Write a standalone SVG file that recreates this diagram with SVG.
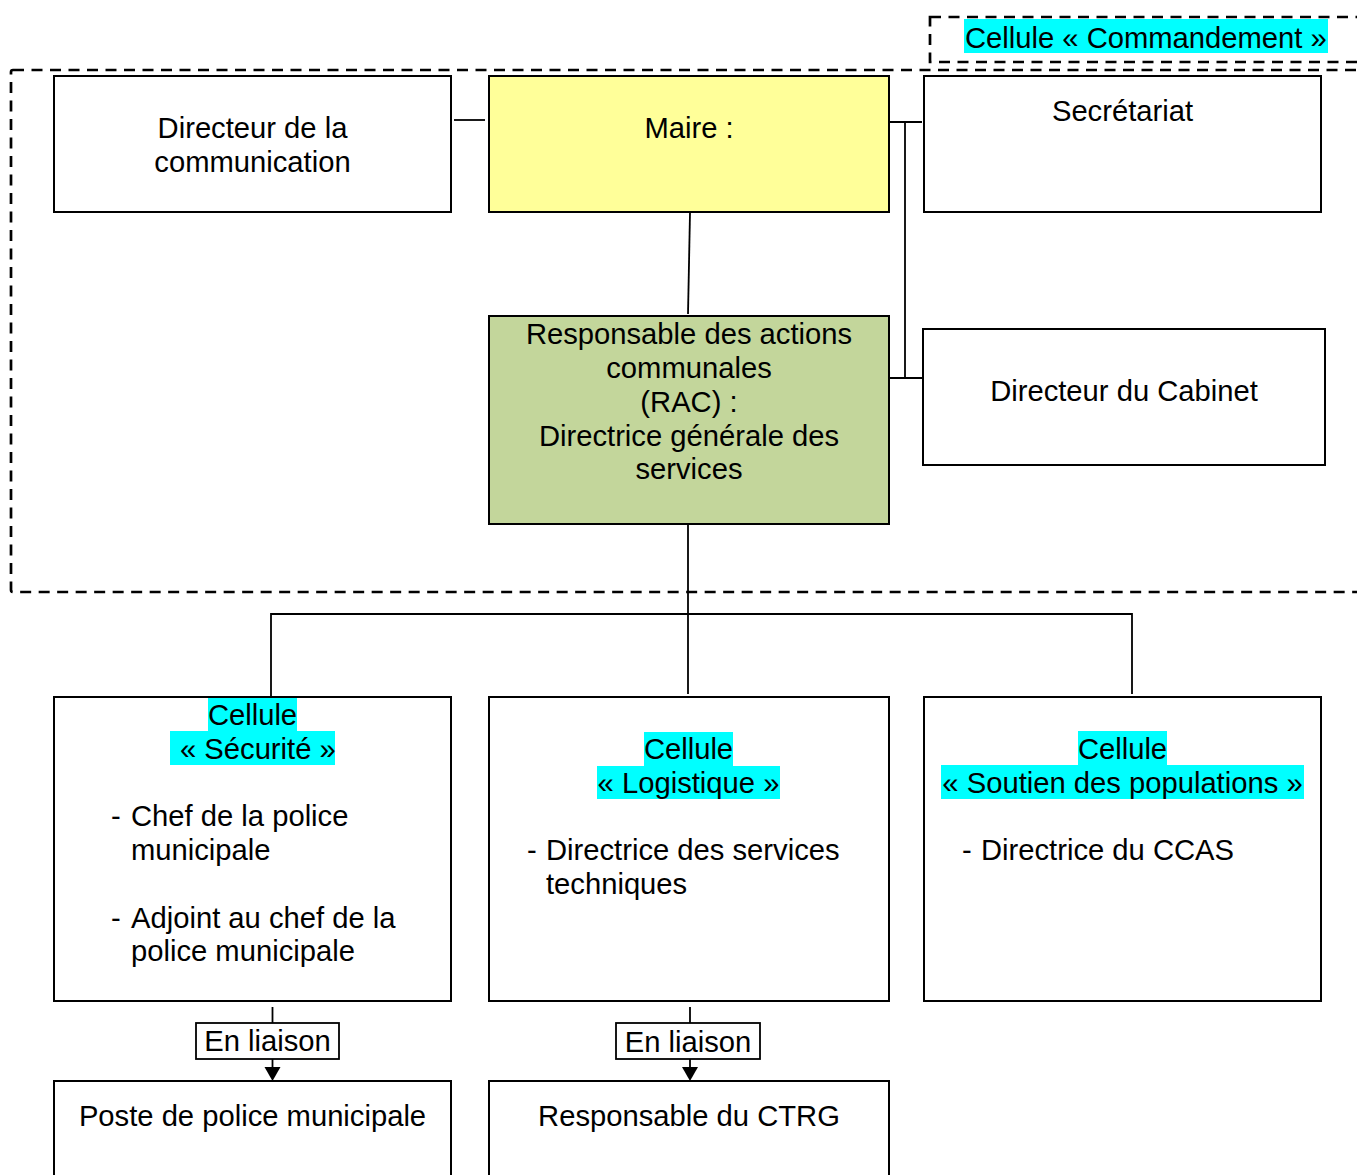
<svg xmlns="http://www.w3.org/2000/svg" width="1357" height="1175" viewBox="0 0 1357 1175">
<style>
text{font-family:"Liberation Sans",Arial,sans-serif;font-size:29.2px;fill:#000}
.c{text-anchor:middle}
.box{fill:#fff;stroke:#000;stroke-width:2}
.dash{fill:none;stroke:#000;stroke-width:2.7;stroke-dasharray:11 7.5}
.ln{fill:none;stroke:#000;stroke-width:1.8}
.hl{fill:#00FFFF}
</style>
<rect width="1357" height="1175" fill="#fff"/>

<g id="zones">
<rect class="dash" x="930" y="17" width="450" height="45"/>
<rect class="dash" x="11" y="70" width="1370" height="522" rx="2"/>
</g>

<g id="connectors">
<line class="ln" x1="454" y1="120" x2="485" y2="120"/>
<line class="ln" x1="889" y1="122" x2="922" y2="122"/>
<line class="ln" x1="905" y1="122" x2="905" y2="378"/>
<line class="ln" x1="889" y1="378" x2="923" y2="378"/>
<line class="ln" x1="690" y1="213" x2="688" y2="314"/>
<line class="ln" x1="688" y1="525" x2="688" y2="694"/>
<polyline class="ln" points="271,697 271,614 1132,614 1132,694"/>
<line class="ln" x1="272.5" y1="1007" x2="272.5" y2="1023"/>
<line class="ln" x1="272.5" y1="1059" x2="272.5" y2="1068"/>
<path d="M264.5,1067 L280.5,1067 L272.5,1081 Z" fill="#000"/>
<line class="ln" x1="690" y1="1007" x2="690" y2="1023"/>
<line class="ln" x1="690" y1="1059" x2="690" y2="1068"/>
<path d="M682,1067 L698,1067 L690,1081 Z" fill="#000"/>
</g>

<g id="cellule-commandement">
<rect class="hl" x="964" y="19" width="364" height="34"/>
<text x="965" y="48">Cellule « Commandement »</text>
</g>

<g id="directeur-communication">
<rect class="box" x="54" y="76" width="397" height="136"/>
<text class="c" x="252.5" y="138">Directeur de la</text>
<text class="c" x="252.5" y="172">communication</text>
</g>

<g id="maire">
<rect class="box" x="489" y="76" width="400" height="136" style="fill:#FFFF99"/>
<text class="c" x="689" y="138">Maire :</text>
</g>

<g id="secretariat">
<rect class="box" x="924" y="76" width="397" height="136"/>
<text class="c" x="1122.5" y="121">Secrétariat</text>
</g>

<g id="rac">
<rect class="box" x="489" y="316" width="400" height="208" style="fill:#C3D69B"/>
<text class="c" x="689" y="344">Responsable des actions</text>
<text class="c" x="689" y="378">communales</text>
<text class="c" x="689" y="412">(RAC) :</text>
<text class="c" x="689" y="446">Directrice générale des</text>
<text class="c" x="689" y="479">services</text>
</g>

<g id="directeur-cabinet">
<rect class="box" x="923" y="329" width="402" height="136"/>
<text class="c" x="1124" y="401">Directeur du Cabinet</text>
</g>

<g id="cellule-securite">
<rect class="box" x="54" y="697" width="397" height="304"/>
<rect class="hl" x="208" y="698" width="89" height="33"/>
<rect class="hl" x="170" y="731" width="165" height="34"/>
<text class="c" x="252.5" y="725">Cellule</text>
<text x="180" y="759">« Sécurité »</text>
<text x="111" y="826">-</text>
<text x="131" y="826">Chef de la police</text>
<text x="131" y="860">municipale</text>
<text x="111" y="928">-</text>
<text x="131" y="928">Adjoint au chef de la</text>
<text x="131" y="961">police municipale</text>
</g>

<g id="cellule-logistique">
<rect class="box" x="489" y="697" width="400" height="304"/>
<rect class="hl" x="644" y="732" width="89" height="34"/>
<rect class="hl" x="597" y="766" width="183" height="33"/>
<text class="c" x="688.5" y="759">Cellule</text>
<text class="c" x="688.5" y="793">« Logistique »</text>
<text x="527" y="860">-</text>
<text x="546" y="860">Directrice des services</text>
<text x="546" y="894">techniques</text>
</g>

<g id="cellule-soutien">
<rect class="box" x="924" y="697" width="397" height="304"/>
<rect class="hl" x="1078" y="731" width="89" height="34"/>
<rect class="hl" x="941" y="765" width="363" height="34"/>
<text class="c" x="1122.5" y="759">Cellule</text>
<text class="c" x="1122.5" y="793">« Soutien des populations »</text>
<text x="962" y="860">-</text>
<text x="981" y="860">Directrice du CCAS</text>
</g>

<g id="liaison-1">
<rect class="box" x="196" y="1023" width="143" height="36" style="stroke-width:1.8"/>
<text class="c" x="267.5" y="1051">En liaison</text>
</g>

<g id="liaison-2">
<rect class="box" x="616" y="1023" width="144" height="36" style="stroke-width:1.8"/>
<text class="c" x="688" y="1052">En liaison</text>
</g>

<g id="poste-police">
<rect class="box" x="54" y="1081" width="397" height="130"/>
<text class="c" x="252.5" y="1126">Poste de police municipale</text>
</g>

<g id="responsable-ctrg">
<rect class="box" x="489" y="1081" width="400" height="130"/>
<text class="c" x="689" y="1126">Responsable du CTRG</text>
</g>
</svg>
